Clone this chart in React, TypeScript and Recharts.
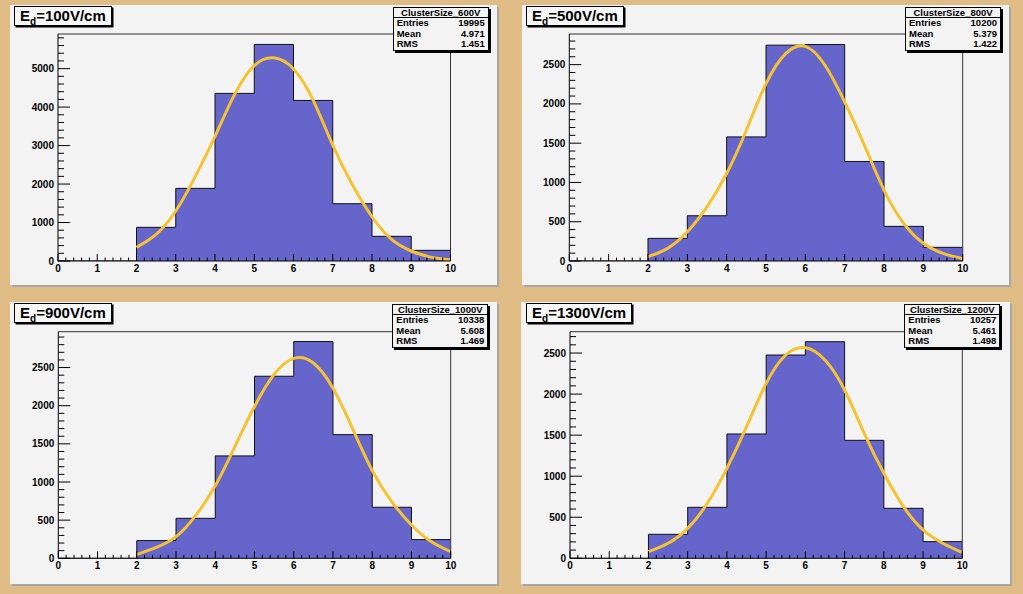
import React from 'react';
import { ComposedChart, Area, Line, XAxis, YAxis, ReferenceLine } from 'recharts';

// ---------- data ----------
const binEdges = [2, 3, 4, 5, 6, 7, 8, 9, 10];

const counts100 = [875, 1888, 4356, 5628, 4173, 1489, 641, 277];
const counts500 = [288, 576, 1580, 2748, 2756, 1267, 441, 174];
const counts900 = [232, 524, 1342, 2386, 2841, 1621, 669, 245];
const counts1300 = [292, 621, 1514, 2476, 2638, 1437, 609, 203];

const fitX = [2, 2.5, 3, 3.5, 4, 4.5, 5, 5.5, 6, 6.5, 7, 7.5, 8, 8.5, 9, 9.5, 10];
const fit100 = [355, 690, 1300, 2200, 3240, 4330, 5080, 5280, 4990, 4180, 3010, 1980, 1150, 560, 260, 100, 30];
const fit500 = [55, 161, 373, 690, 1114, 1665, 2258, 2640, 2733, 2492, 2025, 1475, 903, 479, 225, 97, 30];
const fit900 = [52, 144, 284, 560, 950, 1464, 1989, 2410, 2620, 2560, 2229, 1700, 1150, 740, 437, 219, 87];
const fit1300 = [81, 183, 365, 670, 1096, 1603, 2131, 2476, 2565, 2415, 2050, 1522, 1035, 629, 345, 183, 69];

const titles = ['100V/cm', '500V/cm', '900V/cm', '1300V/cm'];
const statNames = ['ClusterSize_600V', 'ClusterSize_800V', 'ClusterSize_1000V', 'ClusterSize_1200V'];
const statEntries = ['19995', '10200', '10338', '10257'];
const statMeans = ['4.971', '5.379', '5.608', '5.461'];
const statRms = ['1.451', '1.422', '1.469', '1.498'];

const yMaxes = [5900, 2890, 2970, 2760];
const yMajor100 = [0, 1000, 2000, 3000, 4000, 5000];
const yMajor500 = [0, 500, 1000, 1500, 2000, 2500];
const yMinorSteps = [200, 100, 100, 100];
const xMajorTicks = [0, 1, 2, 3, 4, 5, 6, 7, 8, 9, 10];

const countsList = [counts100, counts500, counts900, counts1300];
const fitList = [fit100, fit500, fit900, fit1300];
const yMajorList = [yMajor100, yMajor500, yMajor500, yMajor500];

// ---------- layout ----------
const layouts = [
  { left: 10, top: 5, w: 487, h: 280, pl: 48, pr: 46.5, pt: 29, pb: 24, titleLeft: 4, statLeft: 382.7 },
  { left: 522, top: 5, w: 487, h: 280, pl: 47.3, pr: 46.3, pt: 29, pb: 24, titleLeft: 4, statLeft: 383 },
  { left: 10, top: 302, w: 487, h: 282, pl: 48.3, pr: 46.3, pt: 29.7, pb: 25.7, titleLeft: 4, statLeft: 382.3 },
  { left: 521, top: 302, w: 489, h: 282, pl: 49, pr: 47.7, pt: 29.7, pb: 25.7, titleLeft: 5, statLeft: 383.3 },
];

const BG = '#dfbb86';
const PANEL = '#f3f3f3';
const BAR = '#6565cc';
const FIT = '#f5c331';
const FONT = '"Liberation Sans", Arial, Helvetica, sans-serif';

const xMinorTicks: number[] = [];
for (let i = 0; i <= 50; i++) xMinorTicks.push(Math.round(i * 2) / 10);

function Panel({ idx }: { idx: number }) {
  const L = layouts[idx];
  const counts = countsList[idx];
  const fit = fitList[idx];
  const yMax = yMaxes[idx];
  const majors = yMajorList[idx];
  const step = yMinorSteps[idx];
  const yTicks: number[] = [];
  for (let v = 0; v <= yMax; v += step) yTicks.push(v);

  const histData = [{ x: 0, v: 0 }];
  counts.forEach((c, i) => histData.push({ x: binEdges[i], v: c }));
  histData.push({ x: binEdges[binEdges.length - 1], v: counts[counts.length - 1] });
  const fitData = fitX.map((x, i) => ({ x, f: fit[i] }));

  const plotLeft = L.pl;
  const plotBottom = L.h - L.pb;

  const YTick = (props: any) => {
    const { y, payload } = props;
    const v = payload.value;
    const isMajor = majors.includes(v);
    return (
      <g>
        <line x1={plotLeft} x2={plotLeft + (isMajor ? 12 : 6)} y1={y} y2={y} stroke="#000" strokeWidth={1} />
        {isMajor && (
          <text x={plotLeft - 4} y={y} textAnchor="end" dominantBaseline="central"
            fontFamily={FONT} fontWeight="bold" fontSize={10} fill="#000">{v}</text>
        )}
      </g>
    );
  };

  const XTick = (props: any) => {
    const { x, payload } = props;
    const v = payload.value;
    const isMajor = xMajorTicks.some((m) => Math.abs(m - v) < 1e-6);
    return (
      <g>
        <line x1={x} x2={x} y1={plotBottom} y2={plotBottom - (isMajor ? 7 : 3.5)} stroke="#000" strokeWidth={1} />
        {isMajor && (
          <text x={x} y={plotBottom + 11} textAnchor="middle"
            fontFamily={FONT} fontWeight="bold" fontSize={10} fill="#000">{Math.round(v)}</text>
        )}
      </g>
    );
  };

  return (
    <div style={{
      position: 'absolute', left: L.left, top: L.top, width: L.w, height: L.h,
      background: PANEL, boxShadow: '2px 2px 0 #a6a6a6',
    }}>
      <ComposedChart width={L.w} height={L.h} margin={{ top: L.pt, right: L.pr, left: 0, bottom: 0 }}>
        <XAxis dataKey="x" type="number" domain={[0, 10]} ticks={xMinorTicks} interval={0}
          allowDataOverflow height={L.pb} tickLine={false} axisLine={{ stroke: '#000' }} tick={<XTick />} />
        <YAxis type="number" domain={[0, yMax]} ticks={yTicks} interval={0} allowDataOverflow
          width={L.pl} tickLine={false} axisLine={{ stroke: '#000' }} tick={<YTick />} />
        <Area data={histData} dataKey="v" type="stepAfter" stroke="#111" strokeWidth={1}
          fill={BAR} fillOpacity={1} isAnimationActive={false} dot={false} activeDot={false} />
        <Line data={fitData} dataKey="f" type="natural" stroke={FIT} strokeWidth={3}
          dot={false} activeDot={false} isAnimationActive={false} />
        <ReferenceLine y={yMax} stroke="#333" strokeWidth={1} />
        <ReferenceLine x={10} stroke="#333" strokeWidth={1} />
      </ComposedChart>

      <div style={{
        position: 'absolute', left: L.titleLeft, top: 1, height: 18,
        border: '1px solid #000', boxShadow: '1.5px 1.5px 0 #000', background: '#f7f7f7',
        padding: '0 5px', fontFamily: FONT, fontWeight: 'bold', fontSize: 15, lineHeight: '18px',
        color: '#000', whiteSpace: 'nowrap',
      }}>
        E<span style={{ fontSize: 10, position: 'relative', top: 4 }}>d</span>={titles[idx]}
      </div>

      <div style={{
        position: 'absolute', left: L.statLeft, top: 2, width: 94,
        border: '1px solid #000', boxShadow: '2px 2px 0 #000', background: PANEL,
        fontFamily: FONT, fontWeight: 'bold', fontSize: 9.5, color: '#000',
      }}>
        <div style={{ textAlign: 'center', height: 9, lineHeight: '9px', borderBottom: '1px solid #000' }}>
          {statNames[idx]}
        </div>
        {[['Entries', statEntries[idx]], ['Mean', statMeans[idx]], ['RMS', statRms[idx]]].map(([k, v]) => (
          <div key={k} style={{ display: 'flex', justifyContent: 'space-between', height: 10.6, lineHeight: '10.6px', padding: '0 3px' }}>
            <span>{k}</span><span>{v}</span>
          </div>
        ))}
      </div>
    </div>
  );
}

export default function App() {
  return (
    <div style={{ position: 'absolute', left: 0, top: 0, width: 1023, height: 594, background: BG, overflow: 'hidden' }}>
      {[0, 1, 2, 3].map((i) => <Panel key={i} idx={i} />)}
    </div>
  );
}
